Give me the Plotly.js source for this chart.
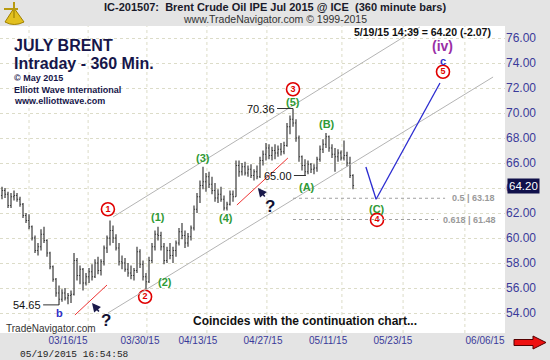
<!DOCTYPE html>
<html><head><meta charset="utf-8">
<script src="https://cdn.plot.ly/plotly-3.0.1.min.js"></script>
<style>html,body{margin:0;padding:0;background:#e4e4e4;}#c{width:550px;height:360px;}</style>
</head><body><div id="c"></div>
<script>
// ---- data: Brent Jul 2015, 360-minute bars (one entry per bar) ----
const opens = [63.4,63.8,63.5,62.6,63.3,63.4,63.1,62.7,61.8,61.4,60.9,60.0,59.0,59.3,60.3,59.8,58.8,57.7,56.7,55.6,
55.1,55.6,55.2,55.4,55.5,58.2,57.0,57.5,56.4,56.9,57.3,56.9,58.0,57.4,58.1,59.2,60.0,60.6,60.0,59.2,
58.1,58.0,57.5,57.2,57.0,57.4,58.9,57.9,56.9,56.5,58.2,59.3,60.3,60.2,59.3,58.2,59.0,58.6,59.0,59.6,
60.5,60.2,59.6,60.1,60.8,62.3,63.3,64.2,64.5,64.9,64.3,63.8,63.2,63.5,63.1,62.4,62.7,63.5,63.3,65.8,
65.3,65.7,65.2,65.5,65.0,65.3,64.9,66.2,66.7,67.2,66.6,67.0,66.8,67.1,66.9,67.4,68.9,69.5,69.2,68.0,
66.5,65.8,65.3,65.9,65.5,65.6,66.3,67.1,67.5,68.1,67.2,66.7,66.5,66.8,66.4,66.6,66.0,65.0];
const highs = [64.1,64.0,63.7,63.6,63.8,63.6,63.3,62.8,62.0,61.9,61.0,60.2,59.6,60.7,60.9,59.9,58.9,57.8,56.8,56.2,
55.9,56.0,55.6,55.8,58.8,58.4,57.8,57.6,57.2,57.6,57.9,58.3,58.5,58.3,59.4,60.2,61.4,61.0,60.3,59.6,
58.6,58.4,58.0,57.8,57.6,59.3,59.1,58.2,57.2,58.5,59.6,60.6,60.9,60.5,59.6,59.3,59.6,59.3,59.8,60.8,
61.2,60.6,60.4,61.0,62.6,63.6,64.6,65.7,65.2,65.3,64.9,64.4,63.9,64.1,63.4,62.9,63.8,63.8,66.2,66.2,
66.0,66.1,65.8,65.9,65.5,65.8,66.5,67.0,67.6,67.5,67.3,67.5,67.4,67.6,67.7,69.2,69.8,70.36,69.5,68.2,
66.6,66.3,66.2,66.0,65.9,66.5,67.4,67.9,68.4,68.2,67.5,67.2,67.1,67.0,67.8,66.9,66.5,65.1];
const lows = [63.1,63.2,62.4,62.4,63.0,62.9,62.5,61.6,61.2,60.7,59.8,58.8,58.6,59.0,59.6,58.5,57.5,56.5,55.3,54.65,
54.9,55.0,54.7,54.8,55.4,56.6,56.3,55.8,56.2,56.4,56.6,56.8,57.1,57.0,57.8,58.8,59.4,59.6,59.0,57.8,
57.5,57.3,56.9,56.7,56.6,57.2,57.6,56.6,55.9,56.4,58.0,59.0,59.8,59.0,57.9,58.0,58.3,58.0,58.5,59.4,
59.9,59.2,59.3,59.8,60.6,62.0,62.8,63.9,63.7,64.0,63.5,62.9,62.8,62.9,62.2,62.2,62.6,62.9,63.3,64.9,
65.0,65.0,64.9,64.8,64.6,64.7,64.8,65.8,66.2,66.3,66.2,66.3,66.5,66.6,66.7,67.3,68.3,68.9,67.7,66.1,
65.4,65.0,65.1,65.2,65.1,65.3,66.1,66.8,67.2,66.9,66.4,65.3,66.1,66.2,66.2,65.7,64.8,63.9];
const closes = [63.8,63.5,62.6,63.3,63.4,63.1,62.7,61.8,61.4,60.9,60.0,59.0,59.3,60.3,59.8,58.8,57.7,56.7,55.6,55.1,
55.6,55.2,55.4,55.5,58.2,57.0,57.5,56.4,56.9,57.3,56.9,58.0,57.4,58.1,59.2,60.0,60.6,60.0,59.2,58.1,
58.0,57.5,57.2,57.0,57.4,58.9,57.9,56.9,56.5,58.2,59.3,60.3,60.2,59.3,58.2,59.0,58.6,59.0,59.6,60.5,
60.2,59.6,60.1,60.8,62.3,63.3,64.2,64.5,64.9,64.3,63.8,63.2,63.5,63.1,62.4,62.7,63.5,63.3,65.8,65.3,
65.7,65.2,65.5,65.0,65.3,64.9,66.2,66.7,67.2,66.6,67.0,66.8,67.1,66.9,67.4,68.9,69.5,69.2,68.0,66.5,
65.8,65.3,65.9,65.5,65.6,66.3,67.1,67.5,68.1,67.2,66.7,66.5,66.8,66.4,66.6,66.0,65.0,64.2];

const dateLabels = ["03/16/15","03/30/15","04/13/15","04/27/15","05/11/15","05/23/15","06/06/15"];
const dateBars   = [22,46,65.3,87,108.7,130.3,161];
const priceTicks = [54,56,58,60,62,64,66,68,70,72,74,76];
const lastPrice = 64.20, change = -2.07;
const fib50 = 63.18, fib618 = 61.48;
const lowB = 54.65, highV = 70.36, lowA = 65.00;

// trend / channel lines: [bar, price] pairs
const upperChannel = [[37,61.68],[139.3,76.88]];
const lowerChannel = [[35.3,54.0],[163.7,72.88]];
const redLine1 = [[24.3,53.84],[35,56.24]];
const redLine2 = [[78.3,62.64],[95.3,66.4]];
const projPath = [[121.3,65.68],[124.7,63.1],[146,72.4]];

// wave labels
const circled = [["1",35.3,62.3],["2",47.7,55.3],["3",97,71.9],["4",125,61.45],["5",147,73.3]];
const greenLbl = [["(1)",52,61.68],["(2)",54.3,56.5],["(3)",67,66.4],["(4)",74.7,61.6],["(5)",97,70.85],
                  ["(A)",101.7,64.1],["(B)",108.3,69.1],["(C)",125,62.3]];
const gridBars = [9,28.7,48.3,68.3,88.3,113.3,133.7,154.3];

// ---- layout helpers ----
const W=550,H=360,ML=0,MR=45,MT=26,MB=27,PW=W-ML-MR,PH=H-MT-MB;
const fx = x => (x-ML)/PW, fy = y => (H-MB-y)/PH;
const F = "Liberation Sans, Arial, sans-serif";

const idx = opens.map((_,i)=>i);
const traces = [{
  type:'ohlc', x:idx, open:opens, high:highs, low:lows, close:closes,
  increasing:{line:{color:'#3c3c3c',width:1.2}}, decreasing:{line:{color:'#3c3c3c',width:1.2}},
  tickwidth:0.35, hoverinfo:'skip', showlegend:false
},{
  type:'scatter', mode:'markers+text', x:circled.map(c=>c[1]), y:circled.map(c=>c[2]),
  text:circled.map(c=>'<b>'+c[0]+'</b>'), textposition:'middle center',
  textfont:{family:F,size:9,color:'#e00000'},
  marker:{size:13,color:'#ffffff',line:{color:'#e00000',width:1.6}},
  hoverinfo:'skip', showlegend:false, cliponaxis:false
}];

const shapes = [];
function seg(p, color, width, dash){
  for(let i=0;i<p.length-1;i++) shapes.push({type:'line',xref:'x',yref:'y',x0:p[i][0],y0:p[i][1],x1:p[i+1][0],y1:p[i+1][1],line:{color,width,dash:dash||'solid'}});
}
gridBars.forEach(b=>shapes.push({type:'line',xref:'x',yref:'paper',x0:b,x1:b,y0:0,y1:1,layer:'below',line:{color:'#dcdcc8',width:1,dash:'dot'}}));
seg(upperChannel,'#b4b4b4',1);
seg(lowerChannel,'#b4b4b4',1);
seg(redLine1,'#ee3333',1);
seg(redLine2,'#ee3333',1);
seg(projPath,'#2b2bd0',1.3);
seg([[97,fib50],[147.7,fib50]],'#a0a0a0',1,'3px,3px');
seg([[97,fib618],[145.3,fib618]],'#a0a0a0',1,'3px,3px');
seg([[91.7,highV],[97,highV]],'#333',1);
seg([[97.3,lowA],[101.3,lowA]],'#333',1);
seg([[13.7,lowB],[19,lowB]],'#333',1);
// red arrow bottom right
const ax0=514, ax1=533, ax2=546, ym=342.5;
shapes.push({type:'path',xref:'paper',yref:'paper',
  path:`M ${fx(ax0)} ${fy(ym-3)} L ${fx(ax1)} ${fy(ym-3)} L ${fx(ax1)} ${fy(ym-6.5)} L ${fx(ax2)} ${fy(ym)} L ${fx(ax1)} ${fy(ym+6.5)} L ${fx(ax1)} ${fy(ym+3)} L ${fx(ax0)} ${fy(ym+3)} Z`,
  fillcolor:'#ee1111',line:{color:'#550000',width:1}});
// logo (sextant-like)
shapes.push({type:'path',xref:'paper',yref:'paper',
  path:`M ${fx(14)} ${fy(8)} L ${fx(5)} ${fy(22)} Q ${fx(14)} ${fy(27)} ${fx(24)} ${fy(22)} Z`,
  fillcolor:'#e2c020',line:{color:'#a08000',width:1}});
shapes.push({type:'line',xref:'paper',yref:'paper',x0:fx(14),x1:fx(14),y0:fy(2),y1:fy(18),line:{color:'#b89a10',width:2}});
shapes.push({type:'line',xref:'paper',yref:'paper',x0:fx(4),x1:fx(18),y0:fy(9),y1:fy(9),line:{color:'#b89a10',width:2}});

const ann = [];
function pt(text,x,y,size,color,opt){ ann.push(Object.assign({xref:'x',yref:'y',x,y,text,showarrow:false,font:{family:F,size,color}},opt||{})); }
function pp(text,x,y,size,color,opt){ ann.push(Object.assign({xref:'paper',yref:'paper',x:fx(x),y:fy(y),text,showarrow:false,xanchor:'left',yanchor:'middle',font:{family:F,size,color}},opt||{})); }

greenLbl.forEach(g=>pt('<b>'+g[0]+'</b>',g[1],g[2],11,'#2f9a35'));
pt('<b>(iv)</b>',147,75.35,14,'#9a2fa6',{borderpad:0});
pt('<b>c</b>',147,74.2,11,'#3030c8',{borderpad:0});
pt('<b>b</b>',19,54.0,11,'#3030c8');
pt('<b>?</b>',34.7,53.4,17,'#111133');
pt('<b>?</b>',89.3,62.5,17,'#111133');
pt('70.36',91.5,highV,11,'#111',{xanchor:'right'});
pt('65.00',97.2,lowA,11,'#111',{xanchor:'right'});
pt('54.65',13.5,lowB,11,'#111',{xanchor:'right'});
pt('<b>0.5 | '+fib50.toFixed(2)+'</b>',149.3,fib50,9,'#9a9a9a',{xanchor:'left'});
pt('<b>0.618 | '+fib618.toFixed(2)+'</b>',146.2,fib618,9,'#9a9a9a',{xanchor:'left'});
// arrows
ann.push({xref:'x',yref:'y',axref:'x',ayref:'y',x:30,y:54.8,ax:32.7,ay:54.0,text:'',showarrow:true,arrowhead:2,arrowsize:1.1,arrowwidth:1.6,arrowcolor:'#1a1a4a'});
ann.push({xref:'x',yref:'y',axref:'x',ayref:'y',x:85.3,y:64.0,ax:88,ay:63.2,text:'',showarrow:true,arrowhead:2,arrowsize:1.1,arrowwidth:1.6,arrowcolor:'#1a1a4a'});
// titles
pp('<b>JULY BRENT</b>',12,45,16,'#16164a');
pp('<b>Intraday - 360 Min.</b>',12,63,16,'#16164a');
pp('<b>© May 2015</b>',12,78,9,'#16164a');
pp('<b>Elliott Wave International</b>',12,90,9,'#16164a');
pp('<b>www.elliottwave.com</b>',12,101,9,'#16164a');
pp('<b>'+'5/19/15 14:39 = '+lastPrice.toFixed(2)+' ('+change.toFixed(2)+')</b>',352,32,10.5,'#111');
pp('<b>IC-201507:  Brent Crude Oil IPE Jul 2015 @ ICE  (360 minute bars)</b>',275,7,11,'#1a1a2a',{xanchor:'center'});
pp('www.TradeNavigator.com © 1999-2015',275,19,10.5,'#333',{xanchor:'center'});
pp('<b>Coincides with the continuation chart...</b>',191,321,12,'#111');
pp('TradeNavigator.com',4,328,10,'#333');
pp('05/19/2015 16:54:58',18,354,9.5,'#222',{font:{family:'Liberation Mono, monospace',size:9.5,color:'#222'}});
// current price box
ann.push({xref:'paper',yref:'y',x:1,y:lastPrice,xanchor:'left',yanchor:'middle',xshift:2,text:lastPrice.toFixed(2),showarrow:false,
  bgcolor:'#10104a',borderpad:1,font:{family:F,size:11.5,color:'#ffffff'}});

const layout = {
  width:W,height:H,margin:{l:ML,r:MR,t:MT,b:MB,pad:0},
  paper_bgcolor:'#e4e4e4',plot_bgcolor:'#ffffff',showlegend:false,
  xaxis:{range:[-0.67,167.67],rangeslider:{visible:false},showgrid:false,zeroline:false,
    tickmode:'array',tickvals:dateBars,ticktext:dateLabels,ticks:'',
    tickfont:{family:F,size:10,color:'#3a3a9a'},fixedrange:true},
  yaxis:{side:'right',range:[52.4,76.96],tickmode:'array',tickvals:priceTicks,ticktext:priceTicks.map(v=>v.toFixed(2)),
    ticks:'',showgrid:true,gridcolor:'#dcdcc8',griddash:'dot',zeroline:false,
    tickfont:{family:F,size:12,color:'#3a3a9a'},fixedrange:true},
  shapes, annotations:ann
};
Plotly.newPlot('c',traces,layout,{staticPlot:true});
</script></body></html>
